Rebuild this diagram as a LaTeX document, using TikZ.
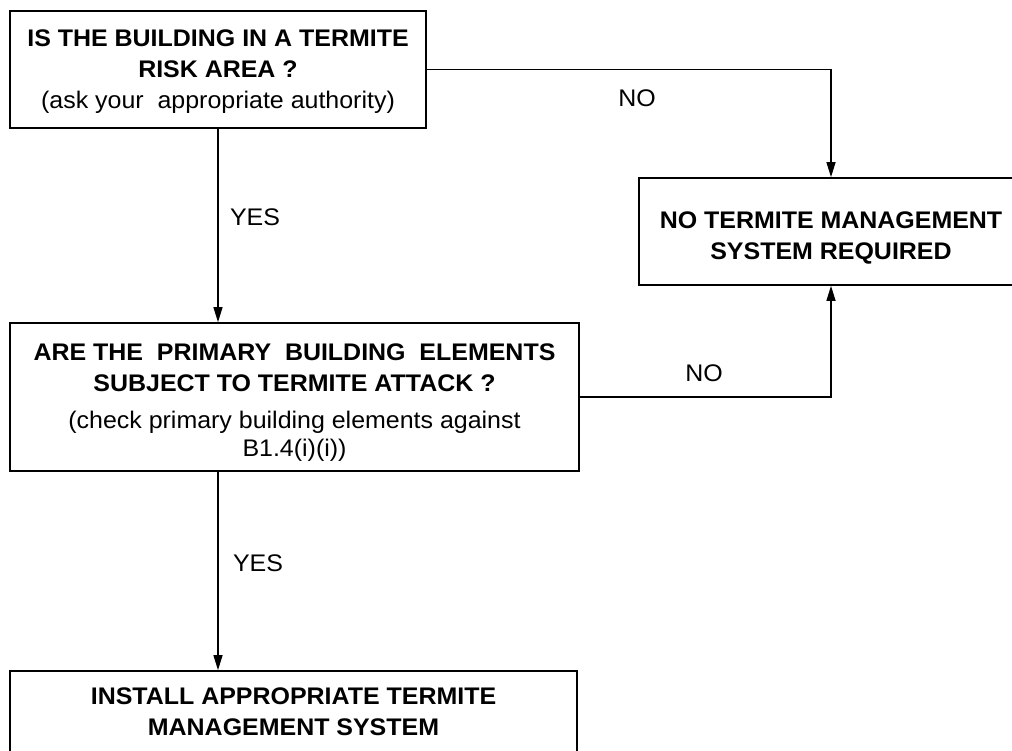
\documentclass[tikz,border=0pt]{standalone}
\usepackage{fontspec}
\setmainfont[FakeStretch=1.04]{Liberation Sans}
\usetikzlibrary{arrows.meta}
\begin{document}
\begin{tikzpicture}[x=1pt,y=-1pt,
        box/.style={draw,line width=1.7pt,align=center,inner sep=0pt,font=\fontsize{24}{31}\selectfont\bfseries},
        lbl/.style={inner sep=0pt,font=\fontsize{24}{26}\selectfont},
        flow/.style={line width=1.3pt,-{Triangle[length=15pt,width=9pt]}}]
    \useasboundingbox (0,0) rectangle (1012,751);
    \node[box,minimum width=416pt,minimum height=117pt] (area) at (218,69.5)
        {\rule{0pt}{21pt}IS THE BUILDING IN A TERMITE\\RISK AREA ?\\{\mdseries (ask your\ \ appropriate authority)}};
    \node[box,minimum width=384pt,minimum height=107pt] (none) at (831,231.5)
        {\rule{0pt}{29pt}NO TERMITE MANAGEMENT\\SYSTEM REQUIRED};
    \node[box,minimum width=569pt,minimum height=148pt] (elem) at (294.5,397)
        {\rule{0pt}{28pt}ARE THE\ \ PRIMARY\ \ BUILDING\ \ ELEMENTS\\SUBJECT TO TERMITE ATTACK ?\\[6pt]{\mdseries (check primary building elements against}\\[-3pt]{\mdseries B1.4(i)(i))}};
    \node[box,minimum width=567pt,minimum height=82pt] (inst) at (293.5,712)
        {INSTALL APPROPRIATE TERMITE\\MANAGEMENT SYSTEM};
    % yes branches
    \draw[flow] (area.south) -- (area.south |- elem.north);
    \draw[flow] (area.south |- elem.south) -- (area.south |- inst.north);
    \node[lbl] (yes1) at (255,217) {YES};
    \node[lbl] (yes2) at (258,563) {YES};
    % no branches
    \draw[flow] (area.east) -| (none.north);
    \draw[flow] (elem.east) -| (none.south);
    \node[lbl] (no1) at (637,98) {NO};
    \node[lbl] (no2) at (704,373) {NO};
\end{tikzpicture}
\end{document}
